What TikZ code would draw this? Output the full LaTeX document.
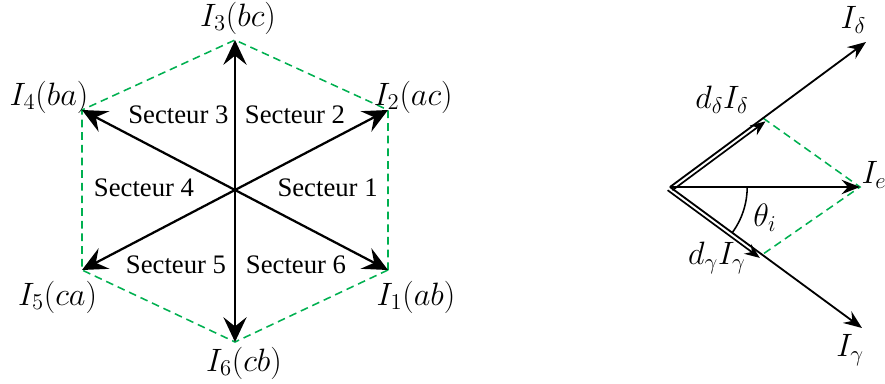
\documentclass[tikz,border=0pt]{standalone}
\usepackage{fix-cm}
\usepackage{fontspec}
\newfontfamily\secfont{LiberationSerif}[Extension=.ttf, UprightFont=*-Regular]
\usetikzlibrary{arrows.meta,calc}

\definecolor{hexgreen}{RGB}{0,176,80}

\begin{document}
\begin{tikzpicture}[
  font=\secfont\fontsize{19}{22}\selectfont,
  vec/.style={-{Stealth[length=6.2mm,width=5.8mm,inset=2.3mm]}, line width=1.6pt},
  svec/.style={-{Stealth[length=4.6mm,width=3.6mm,inset=1.6mm]}, line width=1.3pt},
  dvec/.style={-{Stealth[length=3.8mm,width=3mm,inset=1.3mm]}, line width=1.2pt},
  hexa/.style={dashed, hexgreen, line width=1.1pt, dash pattern=on 5.5pt off 3.5pt},
  lbl/.style={font=\fontsize{23}{26}\selectfont}
]

\useasboundingbox (0,0) rectangle (22.125,9.575);

% Hexagon of current vectors
\coordinate (o) at (5.875,4.825);
\coordinate (i1) at (9.7,2.825);
\coordinate (i2) at (9.7,6.825);
\coordinate (i3) at (5.875,8.575);
\coordinate (i4) at (2.05,6.825);
\coordinate (i5) at (2.05,2.825);
\coordinate (i6) at (5.875,1.025);

\draw[hexa] (i1) -- (i2) -- (i3) -- (i4) -- (i5) -- (i6) -- cycle;
\foreach \k in {1,...,6}
  \draw[vec] (o) -- (i\k);

% Vector labels
\node[lbl] (l1) at (10.4,2.15) {$I_1(ab)$};
\node[lbl] (l2) at (10.33,7.15) {$I_2(ac)$};
\node[lbl] (l3) at (5.95,9.125) {$I_3(bc)$};
\node[lbl] (l4) at (1.225,7.15) {$I_4(ba)$};
\node[lbl] (l5) at (1.44,2.15) {$I_5(ca)$};
\node[lbl] (l6) at (6.1,0.5) {$I_6(cb)$};

% Sectors
\node (s1) at (8.19,4.875) {Secteur 1};
\node (s2) at (7.375,6.7) {Secteur 2};
\node (s3) at (4.46,6.7) {Secteur 3};
\node (s4) at (3.6,4.875) {Secteur 4};
\node (s5) at (4.4,2.95) {Secteur 5};
\node (s6) at (7.4,2.95) {Secteur 6};

% Reference vector decomposition
\coordinate (p) at (16.75,4.9);
\coordinate (ie) at (21.5,4.9);
\coordinate (id) at (21.65,8.525);
\coordinate (ig) at (21.55,1.375);
\coordinate (dd) at ($(p)!0.475!(id)$);
\coordinate (dg) at ($(p)!0.48!(ig)$);

\draw[hexa] (dd) -- (ie) -- (dg);
\draw[svec] (p) -- (id);
\draw[svec] (p) -- (ie);
\draw[svec] (p) -- (ig);
\draw[dvec] ($(p)+(-53.5:0.1)$) -- ($(dd)+(-53.5:0.1)$);
\draw[dvec] ($(p)+(-126.3:0.1)$) -- ($(dg)+(-126.3:0.1)$);

% Angle
\draw[line width=1.1pt] ($(p)+(0:1.93)$) arc[start angle=0, end angle=-36.3, radius=1.93];

\node[lbl] (ld) at (21.33,9.075) {$I_\delta$};
\node[lbl] (ldd) at (18.05,7.075) {$d_\delta I_\delta$};
\node[lbl] (le) at (21.85,5.2) {$I_e$};
\node[lbl] (lt) at (19.125,4.125) {$\theta_i$};
\node[lbl] (ldg) at (17.92,3.12) {$d_\gamma I_\gamma$};
\node[lbl] (lg) at (21.25,0.825) {$I_\gamma$};

\end{tikzpicture}
\end{document}
